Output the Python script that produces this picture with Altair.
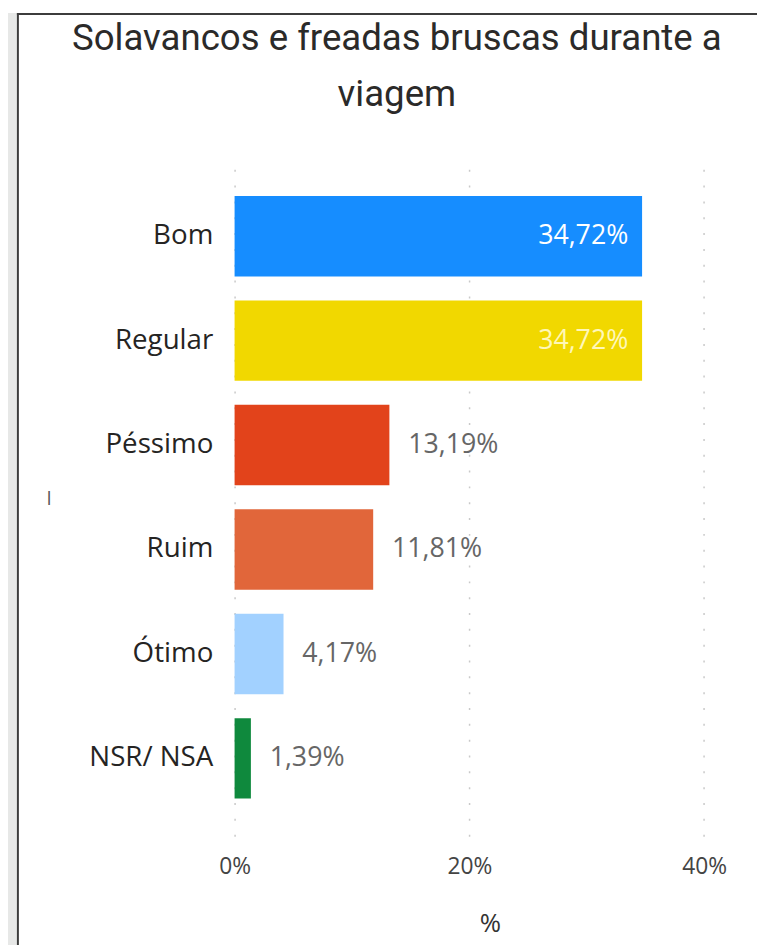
import altair as alt
import pandas as pd

categories = ["Bom", "Regular", "Péssimo", "Ruim", "Ótimo", "NSR/ NSA"]
values = [34.72, 34.72, 13.19, 11.81, 4.17, 1.39]
colors = ["#168DFF", "#F1D800", "#E2431B", "#E1663A", "#A2D1FF", "#0F893D"]
x_ticks = [0, 20, 40]
title_lines = ["Solavancos e freadas bruscas durante a", "viagem"]

df = pd.DataFrame({"categoria": categories, "valor": values})

LABEL_FONT = "Open Sans"
TITLE_FONT = "Roboto"

one = pd.DataFrame({"a": [0]})
# page frame decoration (gray strip + dark border lines)
strip = alt.Chart(one).mark_rect(fill="#E7E8E7").encode(
    x=alt.value(-229), x2=alt.value(-220), y=alt.value(-147), y2=alt.value(800)
)
left_line = alt.Chart(one).mark_rule(stroke="#3C3C3C", strokeWidth=2).encode(
    x=alt.value(-219), y=alt.value(-147), y2=alt.value(800)
)
top_line = alt.Chart(one).mark_rule(stroke="#3C3C3C", strokeWidth=2).encode(
    x=alt.value(-220), x2=alt.value(600), y=alt.value(-146)
)

base = alt.Chart(df).transform_calculate(
    rotulo="replace(format(datum.valor, '.2f'), '.', ',') + '%'"
)

bars = base.mark_bar().encode(
    x=alt.X(
        "valor:Q",
        scale=alt.Scale(domain=[0, 43.5], nice=False, zero=True),
        axis=alt.Axis(
            values=x_ticks, format="d", labelExpr="datum.value + '%'", labelFlush=False,
            title="%", titleFont=LABEL_FONT, titleFontSize=26, titleFontWeight="normal",
            titleColor="#333333", titleBaseline="middle", titleY=88,
            labelFont=LABEL_FONT, labelFontSize=23, labelColor="#444444",
            labelPadding=20, tickSize=0, ticks=False, domain=False,
            grid=True, gridColor="#C9C9C9", gridDash=[2, 14], gridWidth=1.5,
        ),
    ),
    y=alt.Y(
        "categoria:N", sort=categories,
        scale=alt.Scale(paddingInner=0.23, paddingOuter=0.36),
        axis=alt.Axis(
            title="|", titleFont=LABEL_FONT, titleFontSize=14, titleColor="#555555",
            titleAngle=0, titleX=-188, titleY=343, titleBaseline="middle", titleAlign="center",
            labelFont=LABEL_FONT, labelFontSize=28, labelColor="#252423",
            labelPadding=22, tickSize=0, ticks=False, domain=False, grid=False,
        ),
    ),
    color=alt.Color("categoria:N", scale=alt.Scale(domain=categories, range=colors), legend=None),
)

inside = base.transform_filter("datum.valor > 30").mark_text(
    align="right", baseline="middle", dx=-14, font=LABEL_FONT, fontSize=27
).encode(
    x="valor:Q",
    y=alt.Y("categoria:N", sort=categories),
    text="rotulo:N",
    color=alt.Color("categoria:N", scale=alt.Scale(domain=categories, range=["#FFFFFF", "#FFF7B8", "#FFFFFF", "#FFFFFF", "#FFFFFF", "#FFFFFF"]), legend=None),
)

outside = base.transform_filter("datum.valor <= 30").mark_text(
    align="left", baseline="middle", dx=19, font=LABEL_FONT, fontSize=27, color="#666666"
).encode(
    x="valor:Q",
    y=alt.Y("categoria:N", sort=categories),
    text="rotulo:N",
)

chart = alt.layer(strip, left_line, top_line, bars, inside, outside).resolve_scale(color="independent").properties(
    width=516,
    height=685,
    padding={"left": 229, "top": 147, "right": 12, "bottom": 105},
    autosize=alt.AutoSizeParams(type="none"),
    background="white",
    title=alt.TitleParams(
        text=title_lines, anchor="middle", frame="group", dx=-94, offset=0, dy=132,
        baseline="alphabetic",
        font=TITLE_FONT, fontSize=37, fontWeight="normal", color="#2B2A29", lineHeight=57,
    ),
).configure_view(stroke=None)

chart.save("out.html", embed_options={"renderer": "svg", "actions": False})
